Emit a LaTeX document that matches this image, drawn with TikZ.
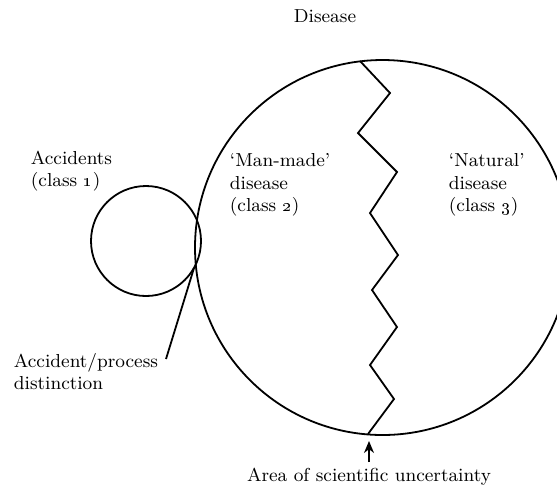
\documentclass[tikz,border=0pt]{standalone}
\usetikzlibrary{arrows.meta}
\begin{document}
\begin{tikzpicture}[x=0.5pt,y=-0.5pt,line width=0.9pt,
        lbl/.style={inner sep=0pt,align=left,font=\fontsize{9.4}{11.2}\selectfont}]
        \useasboundingbox (0,0) rectangle (557,495);
        \clip (0,0) rectangle (557,495);
        \node[draw,circle,inner sep=0pt,minimum size=187.5pt] (disease) at (382.5,247.5) {};
        \node[draw,circle,inner sep=0pt,minimum size=55pt] (accidents) at (146,241) {};
        \draw (360,61) -- (390,93) -- (358,133) -- (397,172) -- (370,213) -- (398,255)
            -- (372,290) -- (397,327) -- (370,365) -- (394,399) -- (368,434);
        \node[lbl,anchor=north] (title) at (325,9) {Disease};
        \node[lbl,anchor=north west] (acc) at (30,150) {Accidents\\(class \oldstylenums{1})};
        \node[lbl,anchor=north west] (manmade) at (229,153) {`Man-made'\\disease\\(class \oldstylenums{2})};
        \node[lbl,anchor=north west] (natural) at (448,153) {`Natural'\\disease\\(class \oldstylenums{3})};
        \node[lbl,anchor=north west] (proc) at (13,352) {Accident/process\\distinction};
        \node[lbl,anchor=north] (area) at (369,467) {Area of scientific uncertainty};
        \coordinate (lens) at (194,268);
        \coordinate (lead) at (166,359);
        \coordinate (tip) at (369,441);
        \draw (lens) -- (lead);
        \draw[-{Stealth[length=6pt,width=5pt]},shorten <=2.5pt] (area.north) -- (tip);
    \end{tikzpicture}
\end{document}
